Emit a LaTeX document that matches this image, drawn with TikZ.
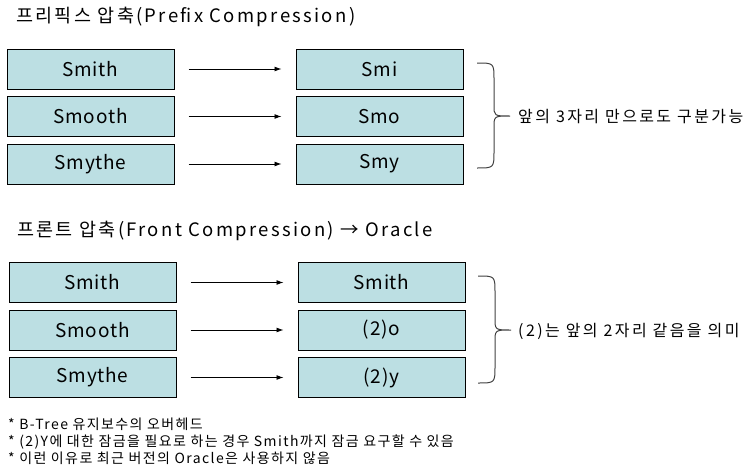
\documentclass[tikz,border=0pt]{standalone}
\usepackage{fontspec}
\setmainfont{Noto Sans CJK KR}
\usetikzlibrary{positioning, arrows.meta}
\definecolor{keyfill}{RGB}{188, 223, 227}

\begin{document}
\begin{tikzpicture}[
    x=1pt, y=-1pt,
    node distance=6.5pt and 121pt,
    keybox/.style={rectangle, draw=black, line width=1pt, fill=keyfill,
                   minimum width=167pt, minimum height=40pt, inner sep=0pt,
                   font=\fontsize{19}{19}\selectfont\addfontfeature{LetterSpace=4},
                   text centered},
    title/.style={anchor=base west, inner sep=0pt,
                  font=\fontsize{18.5}{18.5}\selectfont\addfontfeature{LetterSpace=12.5}},
    note/.style={anchor=base west, inner sep=0pt,
                 font=\fontsize{16}{16}\selectfont\addfontfeature{LetterSpace=15}},
    foot/.style={anchor=base west, inner sep=0pt,
                 font=\fontsize{14}{14}\selectfont\addfontfeature{LetterSpace=10}},
    arr/.style={-{Latex[length=7pt, width=5pt]}, line width=0.9pt,
                shorten <=14pt, shorten >=14pt},
    brc/.style={line width=1pt, draw=black!75}
]
\useasboundingbox (0,0) rectangle (748,471);

% Prefix compression
\node[title] (t1) at (16,23) {프리픽스 압축(Prefix Compression)};

\node[keybox] (p1) at (90.5,69) {Smith};
\node[keybox, below=of p1] (p2) {Smooth};
\node[keybox, below=of p2] (p3) {Smythe};
\node[keybox, right=of p1] (q1) {Smi};
\node[keybox, right=of p2] (q2) {Smo};
\node[keybox, right=of p3] (q3) {Smy};

\draw[arr] (p1) -- (q1);
\draw[arr] (p2) -- (q2);
\draw[arr] (p3) -- (q3);

\draw[brc] (477,63) .. controls (494,63) .. (494,80) -- (494,105)
    .. controls (494,116) .. (510,116) .. controls (494,116) .. (494,128)
    -- (494,151) .. controls (494,168) .. (477,168);
\node[note] (n1) at (518,122) {앞의 3자리 만으로도 구분가능};

% Front compression
\node[title] (t2) at (17,236) {프론트 압축(Front Compression) → Oracle};

\node[keybox] (f1) at (92.5,282.5) {Smith};
\node[keybox, below=of f1] (f2) {Smooth};
\node[keybox, below=of f2] (f3) {Smythe};
\node[keybox, right=of f1] (g1) {Smith};
\node[keybox, right=of f2] (g2) {(2)o};
\node[keybox, right=of f3] (g3) {(2)y};

\draw[arr] (f1) -- (g1);
\draw[arr] (f2) -- (g2);
\draw[arr] (f3) -- (g3);

\draw[brc] (478,276) .. controls (495,276) .. (495,293) -- (495,318)
    .. controls (495,330) .. (511,330) .. controls (495,330) .. (495,342)
    -- (495,366) .. controls (495,383) .. (478,383);
\node[note] (n2) at (518,336) {(2)는 앞의 2자리 같음을 의미};

% Notes
\node[foot] (c1) at (8,429) {* B-Tree 유지보수의 오버헤드};
\node[foot] (c2) at (8,446) {* (2)Y에 대한 잠금을 필요로 하는 경우 Smith까지 잠금 요구할 수 있음};
\node[foot] (c3) at (8,463) {* 이런 이유로 최근 버전의 Oracle은 사용하지 않음};

\end{tikzpicture}
\end{document}
